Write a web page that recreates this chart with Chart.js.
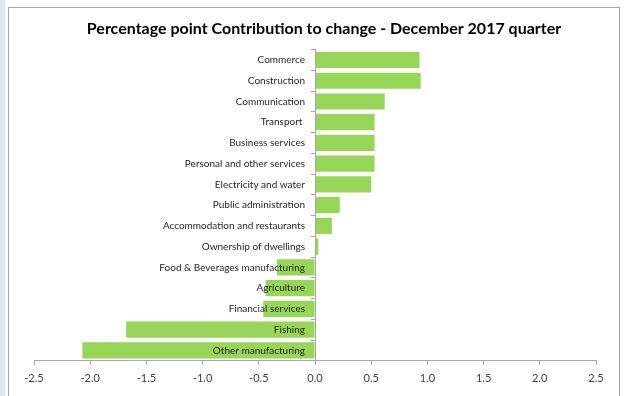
<!DOCTYPE html>
<html>
<head>
<meta charset="utf-8">
<script src="https://cdn.jsdelivr.net/npm/chart.js@4.4.1/dist/chart.umd.min.js"></script>
<style>
html,body{margin:0;padding:0;background:#fff;}
#wrap{width:626px;height:396px;position:relative;}
</style>
</head>
<body>
<div id="wrap"><canvas id="c" width="626" height="396"></canvas></div>
<script>
const titleText = 'Percentage point Contribution to change - December 2017 quarter';
const categories = ['Commerce','Construction','Communication','Transport ','Business services','Personal and other services','Electricity and water','Public administration','Accommodation and restaurants','Ownership of dwellings','Food & Beverages manufacturing','Agriculture','Financial services','Fishing','Other manufacturing'];
const contributions = [0.93,0.94,0.62,0.53,0.53,0.53,0.50,0.22,0.15,0.03,-0.34,-0.44,-0.46,-1.68,-2.07];
const xTickValues = [-2.5,-2.0,-1.5,-1.0,-0.5,0.0,0.5,1.0,1.5,2.0,2.5];

const FONT = 'Lato, "Open Sans", sans-serif';

const framePlugin = {
  id: 'frame',
  beforeDraw(chart) {
    const ctx = chart.ctx;
    ctx.save();
    ctx.fillStyle = '#ffffff';
    ctx.fillRect(0, 0, chart.width, chart.height);
    ctx.fillStyle = '#dfe5ea';
    ctx.fillRect(0, 0, 5, chart.height);
    ctx.strokeStyle = '#a6a6a6';
    ctx.lineWidth = 1;
    ctx.strokeRect(8.5, 7.5, 611, chart.height + 10);
    ctx.restore();
  },
  afterLayout(chart) {
    const t = chart.titleBlock;
    if (t) { t.left += 9; t.right += 9; }
  }
};

// category labels sit 10px left of the zero line (tick 4 + gap 6)
function shiftYLabels(scale) {
  if (scale._shiftPatched) return;
  scale._shiftPatched = true;
  const orig = scale._computeLabelItems;
  scale._computeLabelItems = function (ca) {
    const items = orig.call(this, ca);
    items.forEach(it => { it.options.translation[0] -= 10; });
    return items;
  };
}

new Chart(document.getElementById('c'), {
  type: 'bar',
  data: {
    labels: categories,
    datasets: [{
      data: contributions,
      backgroundColor: '#97d658',
      borderWidth: 0,
      barPercentage: 0.78,
      categoryPercentage: 1.0
    }]
  },
  plugins: [framePlugin],
  options: {
    indexAxis: 'y',
    responsive: false,
    animation: false,
    layout: { padding: { left: 34, right: 30, top: 0, bottom: 4 } },
    plugins: {
      legend: { display: false },
      tooltip: { enabled: false },
      title: {
        display: true,
        text: titleText,
        color: '#000000',
        font: { family: FONT, size: 16, weight: 'bold' },
        padding: { top: 19, bottom: 11.4 }
      }
    },
    scales: {
      x: {
        min: -2.5,
        max: 2.5,
        afterBuildTicks(scale) { scale.ticks = xTickValues.map(v => ({ value: v })); },
        ticks: {
          color: '#404040',
          font: { family: FONT, size: 11 },
          padding: 7,
          maxRotation: 0,
          autoSkip: false,
          callback: v => Number(v).toFixed(1)
        },
        grid: { drawOnChartArea: false, drawTicks: true, tickLength: 4, color: '#a6a6a6' },
        border: { display: true, color: '#a6a6a6' }
      },
      y: {
        position: { x: 0 },
        afterFit: shiftYLabels,
        ticks: {
          color: '#262626',
          font: { family: FONT, size: 10 },
          padding: 6,
          autoSkip: false,
          z: 2
        },
        grid: { drawOnChartArea: false, drawTicks: true, tickLength: 4, color: '#a6a6a6', offset: true, z: 1 },
        border: { display: true, color: '#a6a6a6', z: 1 }
      }
    }
  }
});
</script>
</body>
</html>
